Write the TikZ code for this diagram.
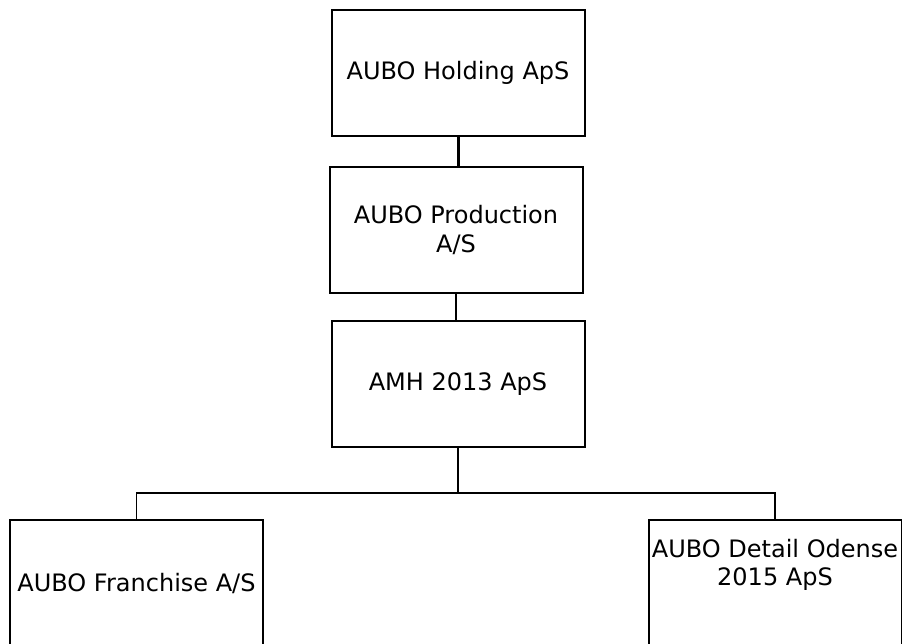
\documentclass[tikz,border=0pt]{standalone}
\usepackage{fontspec}
\setmainfont{DejaVu Sans}
\usetikzlibrary{positioning}
\tikzset{
    company/.style={draw, line width=2pt, minimum width=253pt, minimum height=126pt,
        inner sep=2pt, align=center, font=\fontsize{24}{29}\selectfont},
    link/.style={line width=1.8pt},
}

\begin{document}
\begin{tikzpicture}[x=1pt,y=-1pt]
        \useasboundingbox (0,0) rectangle (902,644);
        \node[company] (hold) at (458,73) {AUBO Holding ApS};
        \node[company] (prod) at (456,230) {AUBO Production\\A/S};
        \node[company] (amh) at (458,384) {AMH 2013 ApS};
        \node[company] (fran) at (136.5,583) {AUBO Franchise A/S};
        \node[company, label={[anchor=north, yshift=-17pt, align=center, font=\fontsize{24}{28}\selectfont]north:AUBO Detail Odense\\2015 ApS}] (det) at (775,583) {};
        \coordinate (bus) at (457,493);
        \draw[line width=3pt] (hold.south) -- (hold.south |- prod.north);
        \draw[link] (prod.south) -- (prod.south |- amh.north);
        \draw[link] (amh.south) -- (amh.south |- bus);
        \draw[link] (fran.north) |- (bus) -| (det.north);
\end{tikzpicture}
\end{document}
